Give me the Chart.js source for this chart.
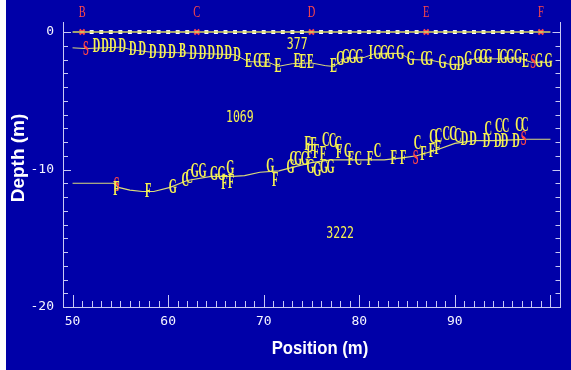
<!DOCTYPE html>
<html>
<head>
<meta charset="utf-8">
<script src="https://cdn.jsdelivr.net/npm/chart.js@4.4.1/dist/chart.umd.min.js"></script>
<style>
  html, body { margin: 0; padding: 0; background: #fff; }
  #wrap { position: absolute; left: 6px; top: 0; width: 565px; height: 370px; }
</style>
</head>
<body>
<div id="wrap"><canvas id="refr" width="565" height="370"></canvas></div>
<script>
  // shots and geophones along the surface (m)
  const shotX = [51, 63, 75, 87, 99];
  const shotNames = ["B", "C", "D", "E", "F"];
  const geoX = [52, 53, 54, 55, 56, 57, 58, 59, 60, 61, 62,
                64, 65, 66, 67, 68, 69, 70, 71, 72, 73, 74,
                76, 77, 78, 79, 80, 81, 82, 83, 84, 85, 86,
                88, 89, 90, 91, 92, 93, 94, 95, 96, 97, 98];
  const surfaceX = [50, 100];
  const surfaceY = [0, 0];

  // first refractor (depth, m)
  const upperLineX = [50, 51.4, 55, 56.3, 58, 61, 67, 68.4, 70.5, 71.5, 73, 75, 76.5, 77.3, 78.5, 80.5, 81.5, 84.3, 85.4, 87.5, 89.5, 90.6, 92, 97, 98, 100];
  const upperLineY = [-1.15, -1.2, -1.1, -1.3, -1.45, -1.5, -1.65, -2.15, -2.2, -2.5, -2.3, -2.25, -2.45, -2.5, -1.95, -1.85, -1.6, -1.55, -2.0, -2.05, -2.35, -2.4, -1.95, -1.95, -2.2, -2.2];

  const upperMarkX = [51.4, 52.5, 53.4, 54.2, 55.2, 56.3, 57.3, 58.4, 59.4, 60.4, 61.5, 62.6, 63.6, 64.5, 65.4, 66.3, 67.2,
                      68.4, 69.3, 69.8, 70.4, 71.5, 73.5, 74.1, 74.9, 77.3, 78.0, 78.6, 79.3, 80.0, 81.2, 81.9, 82.6, 83.3, 84.3,
                      85.4, 86.8, 87.3, 88.7, 89.8, 90.6, 91.4, 92.4, 93.0, 93.5, 94.6, 95.1, 95.8, 96.6, 97.4, 98.2, 98.8, 99.8];
  const upperMarkY = [-1.3, -1.1, -1.1, -1.1, -1.1, -1.3, -1.3, -1.5, -1.5, -1.5, -1.45, -1.55, -1.55, -1.6, -1.6, -1.6, -1.7,
                      -2.2, -2.2, -2.2, -2.2, -2.55, -2.2, -2.25, -2.25, -2.55, -2.05, -1.9, -1.9, -1.9, -1.6, -1.55, -1.55, -1.55, -1.55,
                      -2.05, -2.05, -2.05, -2.25, -2.4, -2.4, -2.05, -1.9, -1.9, -1.9, -1.9, -1.9, -1.9, -1.9, -2.2, -2.25, -2.2, -2.2];
  const upperMarkTxt = ["S", "D", "D", "D", "D", "D", "D", "D", "D", "D", "B", "D", "D", "D", "D", "D", "D",
                        "E", "C", "C", "E", "E", "E", "E", "E", "E", "G", "G", "G", "G", "I", "G", "G", "G", "G",
                        "G", "C", "G", "G", "G", "D", "G", "G", "G", "G", "I", "G", "G", "G", "E", "S", "G", "G"];

  // second refractor (depth, m)
  const lowerLineX = [50, 54.3, 54.8, 56, 57.3, 58.5, 60.2, 62, 64.5, 66.8, 68, 69.6, 71.6, 73, 75, 77, 79, 81, 82.6, 84.5, 86, 88, 90, 92, 94, 96, 97.5, 100];
  const lowerLineY = [-11.0, -11.0, -11.3, -11.5, -11.6, -11.6, -11.3, -10.8, -10.5, -10.5, -10.45, -10.2, -10.1, -9.85, -9.5, -9.3, -9.3, -9.3, -9.3, -9.15, -9.0, -8.6, -8.1, -7.9, -7.9, -7.85, -7.8, -7.8];

  const lowerMarkX = [54.6, 54.6, 57.9, 60.5, 61.8, 62.2, 62.8, 63.6, 64.8, 65.6, 66.5, 65.9, 66.6, 70.7, 71.2, 72.8,
                      73.1, 73.6, 74.3, 74.6, 75.2, 74.8, 75.5, 76.2, 76.5, 77.2, 77.8, 74.9, 75.6, 76.3, 77.0, 77.9,
                      78.8, 79.1, 79.9, 81.1, 81.9, 83.6, 84.6, 85.9, 86.1, 86.7, 87.6, 88.2, 87.7, 88.3, 89.1, 89.8,
                      90.3, 91.0, 91.9, 93.3, 93.5, 94.5, 95.2, 94.6, 95.3, 96.4, 96.7, 97.3, 97.2];
  const lowerMarkY = [-11.2, -11.5, -11.6, -11.3, -10.8, -10.6, -10.2, -10.2, -10.4, -10.4, -9.95, -11.05, -11.0, -9.8, -10.8, -9.9,
                      -9.3, -9.3, -9.3, -8.2, -8.3, -8.8, -8.8, -8.9, -7.9, -8.0, -8.2, -9.9, -10.1, -9.9, -9.9, -8.8,
                      -8.7, -9.3, -9.3, -9.3, -8.7, -9.2, -9.2, -9.2, -8.1, -8.95, -8.7, -8.5, -7.7, -7.6, -7.5, -7.45,
                      -7.6, -7.85, -7.85, -8.0, -7.1, -8.0, -8.0, -6.9, -6.9, -8.0, -6.8, -6.8, -7.85];
  const lowerMarkTxt = ["S", "F", "F", "G", "C", "C", "G", "G", "G", "G", "G", "F", "F", "G", "F", "G",
                        "C", "G", "G", "F", "F", "F", "F", "F", "C", "C", "C", "G", "G", "G", "G", "F",
                        "C", "F", "C", "F", "C", "F", "F", "S", "C", "F", "F", "F", "C", "C", "C", "C",
                        "C", "D", "D", "D", "C", "D", "D", "C", "C", "D", "C", "C", "S"];

  // layer velocities (m/s)
  const velX = [73.5, 67.5, 78];
  const velY = [-0.95, -6.25, -14.7];
  const velTxt = ["377", "1069", "3222"];

  const BG = "#0000a8";
  const AXIS = "#c8c8f4";
  const YELLOW = "#f6f250";
  const LINE = "#dcdc78";
  const RED = "#ff4848";

  const pts = (xs, ys) => xs.map((v, i) => ({ x: v, y: ys[i] }));

  const background = {
    id: "background",
    beforeDraw(chart) {
      const { ctx, width, height } = chart;
      ctx.save();
      ctx.fillStyle = BG;
      ctx.fillRect(0, 0, width, height);
      ctx.restore();
    }
  };

  // letters drawn at each point of datasets that carry a "letters" array
  const letterMarks = {
    id: "letterMarks",
    afterDatasetsDraw(chart) {
      const ctx = chart.ctx;
      chart.data.datasets.forEach((ds, i) => {
        if (!ds.letters) return;
        const meta = chart.getDatasetMeta(i);
        meta.data.forEach((el, j) => {
          const t = ds.letters[j];
          ctx.save();
          ctx.translate(el.x, el.y);
          ctx.scale(ds.squeeze, 1);
          ctx.font = ds.font;
          ctx.fillStyle = t === "S" ? RED : YELLOW;
          ctx.textAlign = "center";
          ctx.textBaseline = "middle";
          ctx.fillText(t, 0, 0);
          ctx.restore();
        });
      });
    }
  };

  const axisDeco = {
    id: "axisDeco",
    afterDraw(chart) {
      const { ctx, chartArea: a, scales: { x, y } } = chart;
      ctx.save();
      ctx.strokeStyle = AXIS;
      ctx.lineWidth = 1;
      const seg = (x1, y1, x2, y2) => {
        ctx.beginPath();
        ctx.moveTo(x1, y1);
        ctx.lineTo(x2, y2);
        ctx.stroke();
      };
      const r = Math.round(a.right) + 0.5;
      const l = Math.round(a.left);
      seg(r, a.top, r, a.bottom);
      // inward ticks, every metre
      x.ticks.forEach(t => {
        if (t.value < 50 || t.value > 100) return;
        const px = Math.round(x.getPixelForValue(t.value)) + 0.5;
        const len = t.value % 10 === 0 ? 12 : 6;
        seg(px, a.bottom, px, a.bottom - len);
      });
      y.ticks.forEach(t => {
        if (t.value <= -20) return;
        const py = Math.round(y.getPixelForValue(t.value)) + 0.5;
        const len = t.value % 10 === 0 ? 8 : 5;
        seg(l, py, l + len, py);
        seg(r, py, r - len, py);
      });

      // shot names above the spread
      ctx.fillStyle = RED;
      ctx.textAlign = "center";
      ctx.textBaseline = "middle";
      shotNames.forEach((n, i) => {
        ctx.save();
        ctx.translate(x.getPixelForValue(shotX[i]), a.top - 9);
        ctx.scale(0.65, 1);
        ctx.font = '16px "Liberation Serif"';
        ctx.fillText(n, 0, 0);
        ctx.restore();
      });

      // axis titles
      ctx.fillStyle = "#ffffff";
      ctx.save();
      ctx.translate(314, 349);
      ctx.scale(0.88, 1);
      ctx.font = 'bold 19px "Liberation Sans"';
      ctx.fillText("Position (m)", 0, 0);
      ctx.restore();
      ctx.save();
      ctx.translate(13, 158);
      ctx.rotate(-Math.PI / 2);
      ctx.font = 'bold 19px "Liberation Sans"';
      ctx.fillText("Depth (m)", 0, 0);
      ctx.restore();
      ctx.restore();
    }
  };

  new Chart(document.getElementById("refr"), {
    type: "scatter",
    data: {
      datasets: [
        { data: pts(upperLineX, upperLineY), showLine: true, borderColor: LINE, borderWidth: 1, pointRadius: 0 },
        { data: pts(lowerLineX, lowerLineY), showLine: true, borderColor: LINE, borderWidth: 1.2, pointRadius: 0 },
        { data: pts(surfaceX, surfaceY), showLine: true, borderColor: "#d8d860", borderWidth: 1.5, pointRadius: 0 },
        { data: geoX.map(v => ({ x: v, y: 0 })), pointStyle: "rect", pointRadius: 2.8,
          backgroundColor: "#ffffff", borderColor: "#ffffff", borderWidth: 0 },
        { data: shotX.map(v => ({ x: v, y: 0 })), pointStyle: "crossRot", pointRadius: 3.5,
          borderColor: RED, borderWidth: 2 },
        { data: pts(upperMarkX, upperMarkY), pointRadius: 0, letters: upperMarkTxt,
          font: 'bold 20px "Liberation Serif"', squeeze: 0.52 },
        { data: pts(lowerMarkX, lowerMarkY), pointRadius: 0, letters: lowerMarkTxt,
          font: 'bold 20px "Liberation Serif"', squeeze: 0.52 },
        { data: pts(velX, velY), pointRadius: 0, letters: velTxt,
          font: '16px "DejaVu Sans Mono"', squeeze: 0.72 }
      ]
    },
    options: {
      responsive: false,
      animation: false,
      layout: { padding: { top: 22, right: 11, left: 0, bottom: 0 } },
      scales: {
        x: {
          type: "linear",
          min: 49,
          max: 101,
          afterFit: s => { s.height = 63; },
          grid: { display: false, drawTicks: false },
          border: { display: true, color: AXIS, width: 1 },
          ticks: {
            stepSize: 1,
            autoSkip: false,
            includeBounds: false,
            maxRotation: 0,
            minRotation: 0,
            padding: 7,
            color: "#f4f4ff",
            font: { family: "DejaVu Sans Mono", size: 13 },
            callback: v => (v % 10 === 0 && v < 100) ? String(v) : ""
          }
        },
        y: {
          type: "linear",
          min: -20,
          max: 0.73,
          afterFit: s => { s.width = 57; },
          grid: { display: false, drawTicks: false },
          border: { display: true, color: AXIS, width: 1 },
          ticks: {
            stepSize: 1,
            autoSkip: false,
            includeBounds: false,
            padding: 9,
            color: "#f4f4ff",
            font: { family: "DejaVu Sans Mono", size: 13 },
            callback: v => v % 10 === 0 ? String(v) : ""
          }
        }
      },
      plugins: {
        legend: { display: false },
        tooltip: { enabled: false }
      }
    },
    plugins: [background, letterMarks, axisDeco]
  });
</script>
</body>
</html>
